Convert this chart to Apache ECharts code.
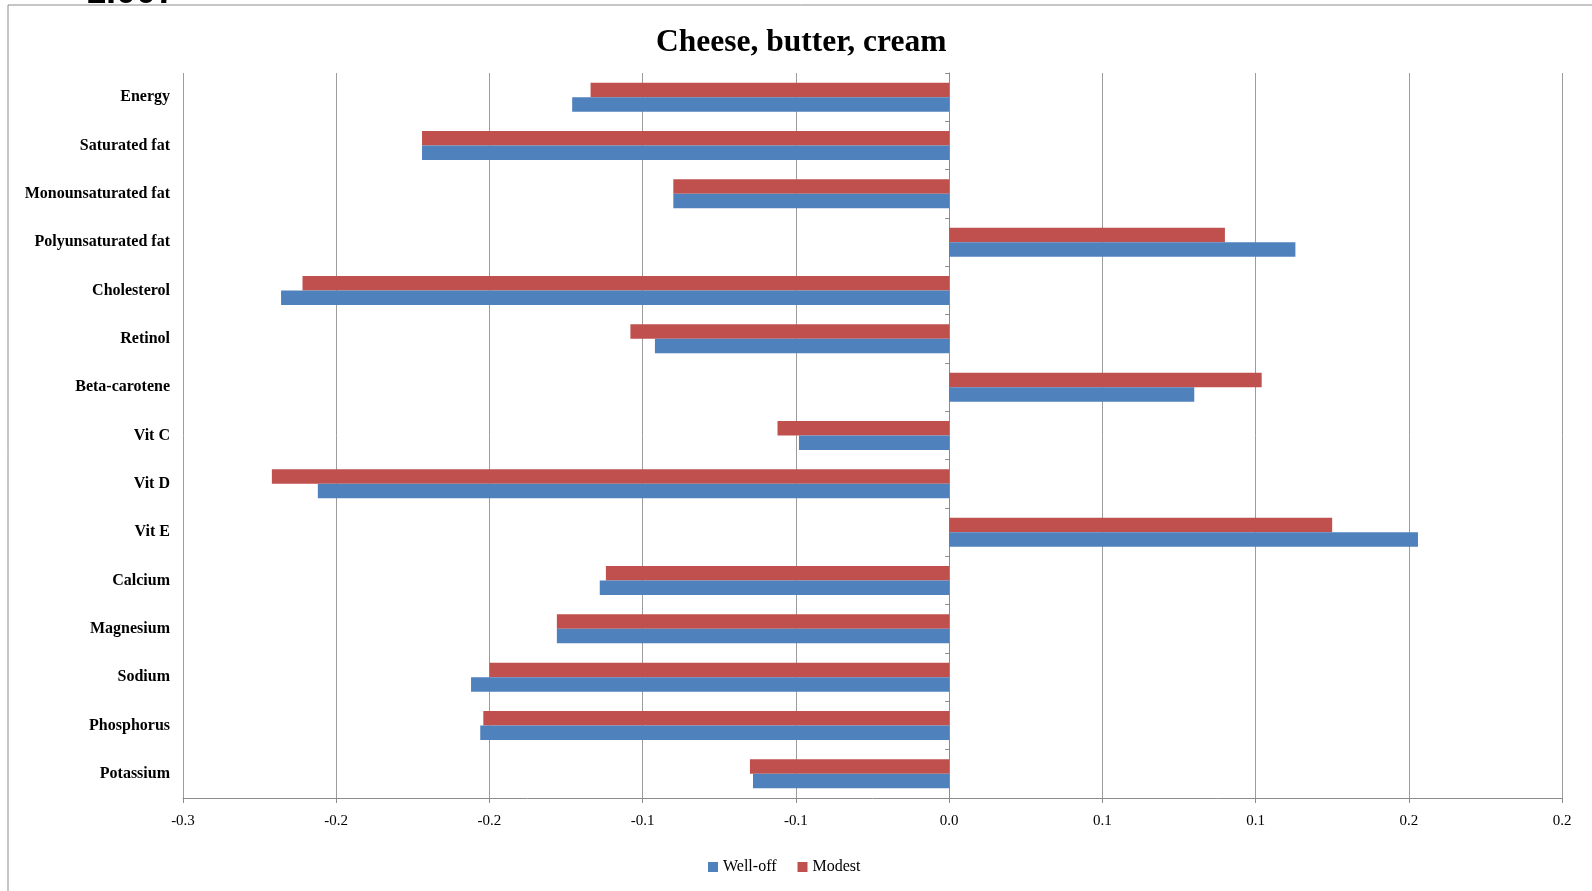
<!DOCTYPE html>
<html>
<head>
<meta charset="utf-8">
<script src="https://cdn.jsdelivr.net/npm/echarts@6/dist/echarts.min.js"></script>
<style>
  html, body { margin: 0; padding: 0; background: #ffffff; }
  #chart { width: 1592px; height: 891px; }
</style>
</head>
<body>
<div id="chart"></div>
<script>
// Nutrient categories, top to bottom
const nutrients = [
  'Energy', 'Saturated fat', 'Monounsaturated fat', 'Polyunsaturated fat',
  'Cholesterol', 'Retinol', 'Beta-carotene', 'Vit C', 'Vit D', 'Vit E',
  'Calcium', 'Magnesium', 'Sodium', 'Phosphorus', 'Potassium'
];

// Coefficients per household group
const wellOff = [
  -0.123, -0.172, -0.090, 0.113, -0.218, -0.096, 0.080, -0.049,
  -0.206, 0.153, -0.114, -0.128, -0.156, -0.153, -0.064
];
const modest = [
  -0.117, -0.172, -0.090, 0.090, -0.211, -0.104, 0.102, -0.056,
  -0.221, 0.125, -0.112, -0.128, -0.150, -0.152, -0.065
];

// Value axis ticks (labels rounded to one decimal)
const xMin = -0.25;
const xMax = 0.2;
const xStep = 0.05;
const xTickLabels = ['-0.3', '-0.2', '-0.2', '-0.1', '-0.1', '0.0', '0.1', '0.1', '0.2', '0.2'];

const seriesNames = ['Well-off', 'Modest'];
const seriesColors = { 'Well-off': '#4F81BD', 'Modest': '#C0504D' };

const serif = '"Liberation Serif", "Times New Roman", serif';
const gridGrey = '#9c9c9c';
const axisGrey = '#8c8c8c';

const chart = echarts.init(document.getElementById('chart'), null, { renderer: 'canvas' });

chart.setOption({
  backgroundColor: '#ffffff',
  animation: false,
  title: {
    text: 'Cheese, butter, cream',
    left: 651,
    top: 22,
    textStyle: { fontFamily: serif, fontWeight: 'bold', fontSize: 31.5, color: '#000000' }
  },
  graphic: [
    {
      type: 'rect',
      shape: { x: 8, y: 5, width: 1640, height: 940 },
      style: { fill: 'none', stroke: axisGrey, lineWidth: 1 },
      silent: true,
      z: -1
    },
    {
      type: 'text',
      x: 86,
      y: 11,
      style: {
        text: '1.007',
        font: 'bold 36px "Liberation Sans", Arial, sans-serif',
        fill: '#000000',
        verticalAlign: 'bottom'
      },
      silent: true
    }
  ],
  legend: {
    data: seriesNames,
    left: 703,
    top: 854,
    itemWidth: 10,
    itemHeight: 10,
    itemGap: 21,
    icon: 'rect',
    textStyle: { fontFamily: serif, fontSize: 16, color: '#000000' }
  },
  grid: {
    left: 183,
    right: 30,
    top: 73,
    bottom: 93,
    containLabel: false,
    outerBoundsMode: 'none'
  },
  xAxis: {
    type: 'value',
    min: xMin,
    max: xMax,
    interval: xStep,
    axisLine: { show: true, onZero: false, lineStyle: { color: axisGrey, width: 1 } },
    axisTick: { show: true, length: 5, lineStyle: { color: axisGrey } },
    splitLine: { show: true, lineStyle: { color: gridGrey, width: 1 } },
    axisLabel: {
      formatter: (v) => xTickLabels[Math.round((v - xMin) / xStep)],
      fontFamily: serif,
      fontSize: 15,
      color: '#000000',
      margin: 16
    }
  },
  yAxis: [
    {
      type: 'category',
      data: nutrients,
      inverse: true,
      axisLine: { show: false, onZero: false },
      axisTick: { show: false },
      splitLine: { show: false },
      axisLabel: {
        fontFamily: serif,
        fontWeight: 'bold',
        fontSize: 16,
        color: '#000000',
        margin: 13,
        padding: [3, 0, 0, 0]
      }
    },
    {
      // zero line with category tick marks
      type: 'category',
      data: nutrients,
      inverse: true,
      position: 'left',
      axisLine: { show: true, onZero: true, lineStyle: { color: axisGrey, width: 1 } },
      axisTick: { show: true, length: 4, lineStyle: { color: axisGrey } },
      axisLabel: { show: false },
      splitLine: { show: false }
    }
  ],
  series: [
    {
      name: 'Modest',
      type: 'bar',
      yAxisIndex: 0,
      data: modest,
      itemStyle: { color: seriesColors['Modest'] },
      barGap: '0%',
      barCategoryGap: '40%'
    },
    {
      name: 'Well-off',
      type: 'bar',
      yAxisIndex: 0,
      data: wellOff,
      itemStyle: { color: seriesColors['Well-off'] },
      barGap: '0%',
      barCategoryGap: '40%'
    }
  ]
});
</script>
</body>
</html>
